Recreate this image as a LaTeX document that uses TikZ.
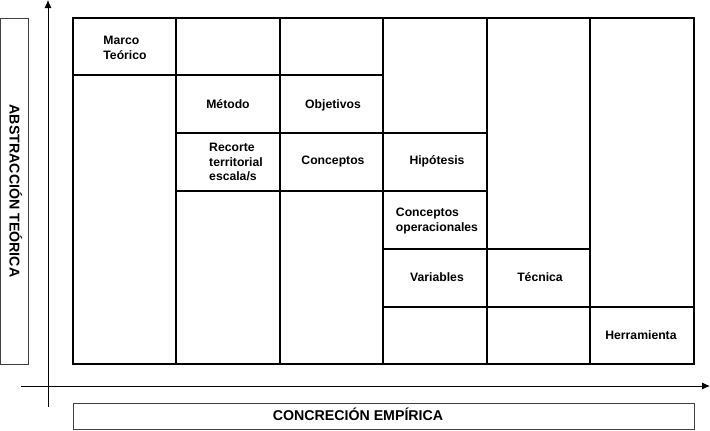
\documentclass[tikz,border=0pt]{standalone}
\usepackage{fontspec}
\setmainfont{Liberation Sans}
\usetikzlibrary{arrows.meta}
\begin{document}
\begin{tikzpicture}[x=1pt, y=-1pt,
            cell/.style={font=\bfseries\fontsize{12.2}{14.5}\selectfont, inner sep=0},
            onecell/.style={cell, text height=.7em, text depth=0pt},
            axislabel/.style={font=\bfseries\fontsize{14.2}{17}\selectfont, inner sep=0, text height=.7em, text depth=0pt},
            grid/.style={line width=1.3pt},
            labelbox/.style={draw=black!75, line width=.8pt},
            axis/.style={-{Latex[length=8pt,width=7pt]}, line width=.8pt},
        ]
        \useasboundingbox (0,0) rectangle (710,431);
        % table
        \draw[grid] (73,18) rectangle (694,364);
        \foreach \x in {176,280,383,487,590} {
            \draw[grid] (\x,18) -- (\x,364);
        }
        \draw[grid] (73,75) -- (383,75);
        \draw[grid] (176,133) -- (487,133) (176,191) -- (487,191);
        \draw[grid] (383,249) -- (590,249);
        \draw[grid] (383,307) -- (694,307);
        % cells
        \node[cell, align=left] (marco) at (125,48) {Marco\\Teórico};
        \node[onecell] (metodo) at (228,105) {Método};
        \node[onecell] (objetivos) at (333,105) {Objetivos};
        \node[cell, align=left] (recorte) at (236,162) {Recorte\\territorial\\escala/s};
        \node[onecell] (conceptos) at (333,161) {Conceptos};
        \node[onecell] (hipotesis) at (437,161) {Hipótesis};
        \node[cell, align=left] (operac) at (437,221) {Conceptos\\operacionales};
        \node[onecell] (variables) at (437,278) {Variables};
        \node[onecell] (tecnica) at (540,278) {Técnica};
        \node[onecell] (herram) at (641,336) {Herramienta};
        % axes
        \coordinate (O1) at (48,407);
        \coordinate (Ytop) at (48,0);
        \coordinate (O2) at (21,386);
        \coordinate (Xend) at (710,386);
        \draw[axis] (O1) -- (Ytop);
        \draw[axis] (O2) -- (Xend);
        \node[labelbox, minimum width=28pt, minimum height=346pt] (abs) at (14,191) {};
        \node[axislabel, rotate=-90] (abslabel) at (13,191) {ABSTRACCIÓN TEÓRICA};
        \node[labelbox, minimum width=621pt, minimum height=26pt] (conc) at (383.5,416.5) {};
        \node[axislabel] (conclabel) at (358,417) {CONCRECIÓN EMPÍRICA};
    \end{tikzpicture}
\end{document}
